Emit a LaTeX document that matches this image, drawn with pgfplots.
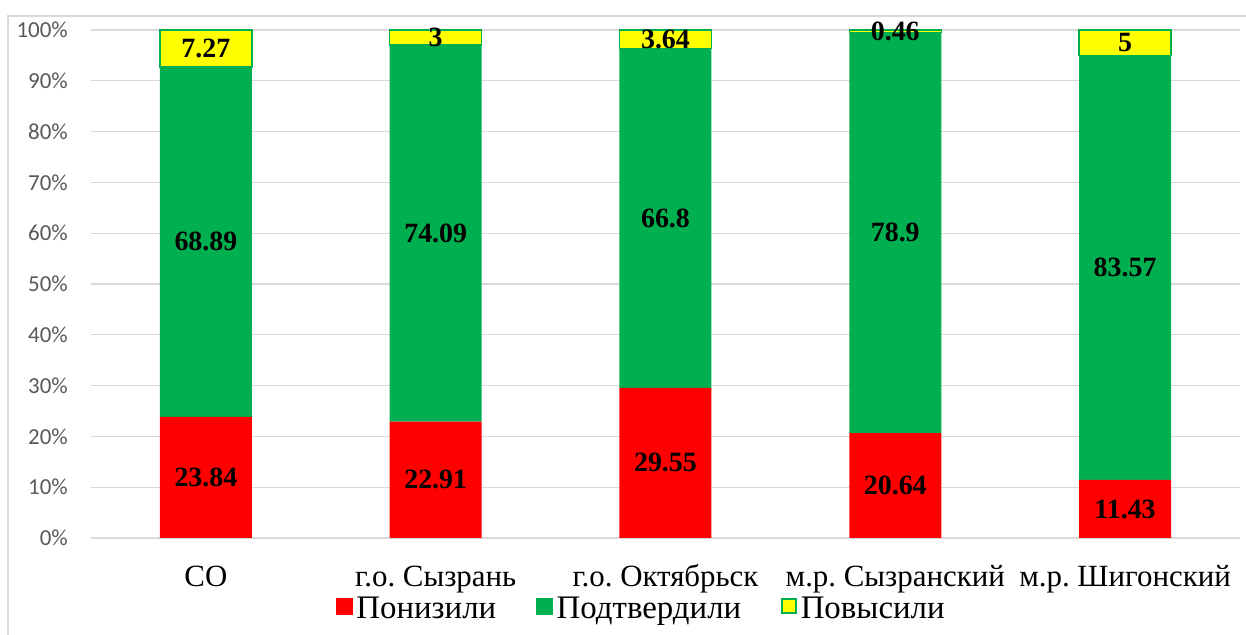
\documentclass[border=0pt]{standalone}
\usepackage{pgfplots}
\pgfplotsset{compat=1.18}
\usepackage{pgfplotstable}
\usepackage{fontspec}
\setmainfont{Liberation Serif}
\newfontfamily\carlito{Carlito}
\definecolor{cred}{HTML}{FF0000}
\definecolor{cgreen}{HTML}{00B050}
\definecolor{cyellow}{HTML}{FFFF00}
\definecolor{cgrid}{HTML}{D9D9D9}
\definecolor{ctick}{HTML}{595959}
\frenchspacing

\pgfplotstableread{
x lo mid hi
0 23.84 68.89 7.27
1 22.91 74.09 3
2 29.55 66.8 3.64
3 20.64 78.9 0.46
4 11.43 83.57 5
}\data

\begin{document}
\begin{tikzpicture}
\path[use as bounding box] (0,0) rectangle (1246bp,635bp);
\draw[cgrid, line width=1.5bp] (8bp,0) -- (8bp,619bp) -- (1246bp,619bp);
\begin{axis}[
  at={(91bp,97bp)}, anchor=south west,
  scale only axis, width=1149bp, height=508bp,
  ybar stacked, bar width=92bp,
  xmin=-0.5, xmax=4.5, ymin=0, ymax=100,
  xtick={0,1,2,3,4},
  xticklabels={СО, г.о. Сызрань, г.о. Октябрьск, м.р. Сызранский, м.р. Шигонский},
  ytick={0,10,20,30,40,50,60,70,80,90,100},
  yticklabels={0\%,10\%,20\%,30\%,40\%,50\%,60\%,70\%,80\%,90\%,100\%},
  ymajorgrids, grid style={cgrid, line width=1.3bp},
  axis line style={draw=none}, tick style={draw=none}, major tick length=0pt,
  xticklabel style={font=\fontsize{31}{36}\selectfont, text=black, anchor=base, yshift=-48bp},
  yticklabel style={font=\carlito\fontsize{23}{27}\selectfont, text=ctick, anchor=east, inner sep=0pt, xshift=-23bp},
]
\addplot[fill=cred, draw=none] table[x=x, y=lo] \data;
\addplot[fill=cgreen, draw=none] table[x=x, y=mid] \data;
\addplot[fill=cyellow, draw=cgreen, line width=1.5bp] table[x=x, y=hi] \data;
\end{axis}
\begin{axis}[
  at={(91bp,97bp)}, anchor=south west,
  scale only axis, width=1149bp, height=508bp,
  xmin=-0.5, xmax=4.5, ymin=0, ymax=100,
  hide axis, clip=false,
  nodes near coords style={anchor=center, text=black, font=\bfseries\fontsize{28}{32}\selectfont},
  legend columns=3,
  legend style={at={(0.479,-0.138)}, anchor=center, draw=none, fill=none,
    font=\fontsize{33}{38}\selectfont,
    /tikz/every odd column/.append style={column sep=2bp},
    /tikz/every even column/.append style={column sep=38bp}},
]
\addlegendimage{legend image code/.code={\fill[cred] (0bp,-6bp) rectangle (16bp,10bp);}}
\addlegendentry{Понизили}
\addlegendimage{legend image code/.code={\fill[cgreen] (0bp,-6bp) rectangle (16bp,10bp);}}
\addlegendentry{Подтвердили}
\addlegendimage{legend image code/.code={\draw[fill=cyellow, draw=cgreen, line width=1.5bp] (0bp,-5bp) rectangle (14bp,9bp);}}
\addlegendentry{Повысили}
\addplot[draw=none, mark=none, nodes near coords, point meta=explicit symbolic, forget plot]
  table[x=x, y expr=\thisrow{lo}/2, meta=lo] \data;
\addplot[draw=none, mark=none, nodes near coords, point meta=explicit symbolic, forget plot]
  table[x=x, y expr=\thisrow{lo}+\thisrow{mid}/2, meta=mid] \data;
\addplot[draw=none, mark=none, nodes near coords, point meta=explicit symbolic, forget plot]
  table[x=x, y expr=\thisrow{lo}+\thisrow{mid}+\thisrow{hi}/2, meta=hi] \data;
\end{axis}
\end{tikzpicture}
\end{document}
